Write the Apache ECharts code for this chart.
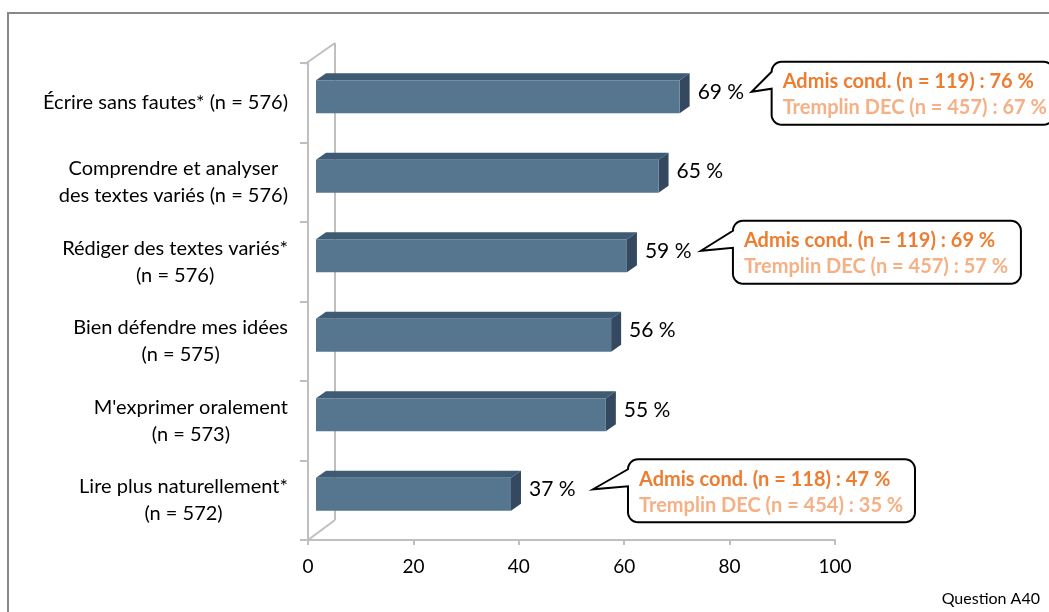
<!DOCTYPE html>
<html><head><meta charset="utf-8">
<script src="https://cdn.jsdelivr.net/npm/echarts@6/dist/echarts.min.js"></script>
<style>html,body{margin:0;padding:0;background:#fff}#c{width:1049px;height:612px}</style>
</head><body><div id="c"></div>
<script>
const categories = [
  "Écrire sans fautes* (n = 576)",
  "Comprendre et analyser\ndes textes variés (n = 576)",
  "Rédiger des textes variés*\n(n = 576)",
  "Bien défendre mes idées\n(n = 575)",
  "M'exprimer oralement\n(n = 573)",
  "Lire plus naturellement*\n(n = 572)"
];
const values = [69, 65, 59, 56, 55, 37];
const xTickValues = [0, 20, 40, 60, 80, 100];
const calloutCategory = [0, 2, 5];
const calloutLine1 = ["Admis cond. (n = 119) : 76 %", "Admis cond. (n = 119) : 69 %", "Admis cond. (n = 118) : 47 %"];
const calloutLine2 = ["Tremplin DEC (n = 457) : 67 %", "Tremplin DEC (n = 457) : 57 %", "Tremplin DEC (n = 454) : 35 %"];
const footnote = "Question A40";

// layout / style constants
const FONT = 'Lato';
const GRID = {left: 308, top: 63, right: 214, bottom: 72};
const OX = 8, OY = -6, BAR_H = 33, DX = 10, DY = 7;
const WALL_DX = 27, WALL_DY = 20;
const FRONT = '#56768F', TOP = '#3F5A73', SIDE = '#34495F';
const GRAY = '#BFBFBF';
// callout layout: tip offset from bar end, box left offset from tip, box width
const CALLOUT_LAYOUT = [
  {tip: 62, box: 20, w: 282},
  {tip: 64, box: 32, w: 288},
  {tip: 72, box: 35, w: 287}
];

const chart = echarts.init(document.getElementById('c'));
const option = {
  animation: false,
  backgroundColor: '#fff',
  grid: {left: GRID.left, top: GRID.top, right: GRID.right, bottom: GRID.bottom, containLabel: false},
  xAxis: {
    type: 'value', min: xTickValues[0], max: xTickValues[xTickValues.length - 1], interval: 20,
    axisLine: {show: true, lineStyle: {color: GRAY, width: 2}},
    axisTick: {show: true, length: 5, lineStyle: {color: GRAY, width: 2}},
    splitLine: {show: false},
    axisLabel: {color: '#000', fontFamily: FONT, fontSize: 19, margin: 17}
  },
  yAxis: {
    type: 'category', inverse: true, data: categories,
    axisLine: {show: true, lineStyle: {color: GRAY, width: 2}},
    axisTick: {show: true, length: 8, lineStyle: {color: GRAY, width: 2}},
    axisLabel: {
      margin: 20, color: '#000', fontFamily: FONT, fontSize: 20, align: 'right',
      formatter: v => v.split('\n').map(l => '{c|' + l + '}').join('\n'),
      rich: {c: {align: 'center', fontFamily: FONT, fontSize: 20, lineHeight: 27, color: '#000'}}
    }
  },
  series: [{
    type: 'custom',
    data: values.map((v, i) => [v, i]),
    encode: {x: 0, y: 1},
    renderItem: function (params, api) {
      const v = api.value(0), idx = api.value(1);
      const s = api.coord([0, idx]), e = api.coord([v, idx]);
      const x0 = s[0] + OX, x1 = e[0] + OX, yc = s[1] + OY;
      const top = yc - BAR_H / 2, bot = yc + BAR_H / 2;
      return {type: 'group', children: [
        {type: 'polygon', shape: {points: [[x0, top], [x1, top], [x1 + DX, top - DY], [x0 + DX, top - DY]]}, style: {fill: TOP}},
        {type: 'polygon', shape: {points: [[x1, top], [x1 + DX, top - DY], [x1 + DX, bot - DY], [x1, bot]]}, style: {fill: SIDE}},
        {type: 'rect', shape: {x: x0, y: top, width: x1 - x0, height: BAR_H}, style: {fill: FRONT}},
        {type: 'text', style: {x: x1 + DX + 8, y: yc - 5, text: v + ' %', font: '21px ' + FONT, fill: '#000', verticalAlign: 'middle', align: 'left'}}
      ]};
    }
  }]
};
chart.setOption(option);

// Back wall, frame, callouts
const W = 1049, H = 612;
const gx0 = GRID.left, gy0 = GRID.top, gx1 = W - GRID.right, gy1 = H - GRID.bottom;
const graphics = [];
graphics.push({type: 'rect', z: -10, shape: {x: 8, y: 13, width: 1200, height: 800}, style: {fill: 'none', stroke: '#898989', lineWidth: 2}});
graphics.push({type: 'line', z: -5, shape: {x1: gx0 + WALL_DX, y1: gy0 - WALL_DY, x2: gx0 + WALL_DX, y2: gy1 - WALL_DY}, style: {stroke: GRAY, lineWidth: 2}});
graphics.push({type: 'line', z: -5, shape: {x1: gx0 - 3, y1: gy0 + 1, x2: gx0 + WALL_DX, y2: gy0 - WALL_DY}, style: {stroke: GRAY, lineWidth: 2}});
graphics.push({type: 'line', z: -5, shape: {x1: gx0, y1: gy1, x2: gx0 + WALL_DX, y2: gy1 - WALL_DY}, style: {stroke: GRAY, lineWidth: 2}});

function arcPts(cx, cy, r, a0, a1) {
  const pts = [];
  for (let i = 0; i <= 8; i++) {
    const a = a0 + (a1 - a0) * i / 8;
    pts.push([cx + r * Math.cos(a), cy + r * Math.sin(a)]);
  }
  return pts;
}

calloutCategory.forEach((ci, k) => {
  const L = CALLOUT_LAYOUT[k];
  const p = chart.convertToPixel({gridIndex: 0}, [values[ci], ci]);
  const tipX = p[0] + OX + DX + L.tip, tipY = p[1] + OY - 5;
  const left = tipX + L.box, top = tipY - 30, w = L.w, h = 63, r = 10;
  const right = left + w, bottom = top + h;
  const PI = Math.PI;
  let pts = [];
  pts = pts.concat(arcPts(right - r, top + r, r, -PI / 2, 0));
  pts = pts.concat(arcPts(right - r, bottom - r, r, 0, PI / 2));
  pts = pts.concat(arcPts(left + r, bottom - r, r, PI / 2, PI));
  pts.push([left, top + 27]);
  pts.push([tipX, tipY]);
  pts.push([left, top + r]);
  pts = pts.concat(arcPts(left + r, top + r, r, PI, 1.5 * PI));
  graphics.push({type: 'polygon', z: 10, shape: {points: pts}, style: {fill: '#fff', stroke: '#000', lineWidth: 2, lineJoin: 'miter'}});
  graphics.push({type: 'text', z: 11, style: {x: left + 11, y: top + 20, text: calloutLine1[k], font: 'bold 20px ' + FONT, fill: '#ED7D31', verticalAlign: 'middle'}});
  graphics.push({type: 'text', z: 11, style: {x: left + 11, y: top + 46, text: calloutLine2[k], font: 'bold 20px ' + FONT, fill: '#F5B085', verticalAlign: 'middle'}});
});
graphics.push({type: 'text', style: {x: 1040, y: 599, text: footnote, font: '16px ' + FONT, fill: '#000', align: 'right', verticalAlign: 'middle'}});
chart.setOption({graphic: graphics});
</script>
</body></html>
